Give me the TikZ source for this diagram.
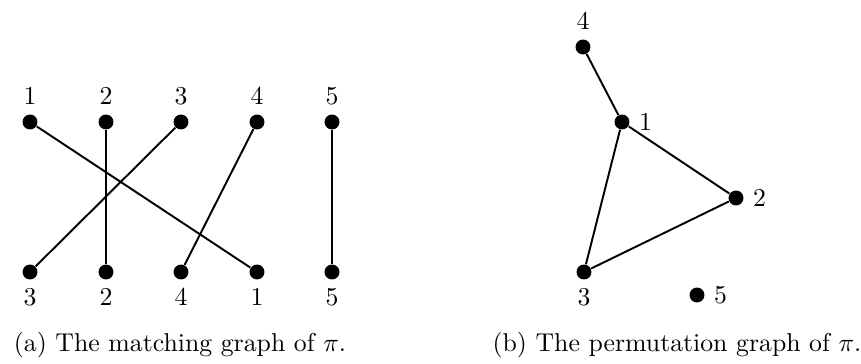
\documentclass[tikz,border=0pt]{standalone}
\usetikzlibrary{positioning}

\tikzset{
  vtx/.style={circle, fill=black, inner sep=0pt, minimum size=5.8pt},
  edge/.style={line width=0.75pt}
}

\begin{document}
\begin{tikzpicture}[x=0.388pt, y=-0.388pt]
    \useasboundingbox (0,0) rectangle (861,364);

    % Matching graph: top row 1..5, bottom row 3 2 4 1 5
    \foreach \i/\x in {1/30, 2/106, 3/181, 4/257, 5/332}
        \node[vtx, label=above:{$\i$}] (t\i) at (\x,122) {};
    \node[vtx, label=below:{$3$}] (b3) at (30,272) {};
    \node[vtx, label=below:{$2$}] (b2) at (106,272) {};
    \node[vtx, label=below:{$4$}] (b4) at (181,272) {};
    \node[vtx, label=below:{$1$}] (b1) at (257,272) {};
    \node[vtx, label=below:{$5$}] (b5) at (332,272) {};
    \foreach \i in {1,...,5}
        \draw[edge] (t\i) -- (b\i);

    % Permutation graph
    \node[vtx, label=above:{$4$}] (p4) at (583,47) {};
    \node[vtx, label=right:{$1$}] (p1) at (622,122) {};
    \node[vtx, label=right:{$2$}] (p2) at (736,198) {};
    \node[vtx, label=below:{$3$}] (p3) at (584,272) {};
    \node[vtx, label=right:{$5$}] (p5) at (697,295) {};
    \draw[edge] (p4) -- (p1) -- (p2) -- (p3) -- (p1);

    % Captions
    \node (capa) at (180,345) {(a) The matching graph of $\pi$.};
    \node (capb) at (677,345) {(b) The permutation graph of $\pi$.};
\end{tikzpicture}
\end{document}
